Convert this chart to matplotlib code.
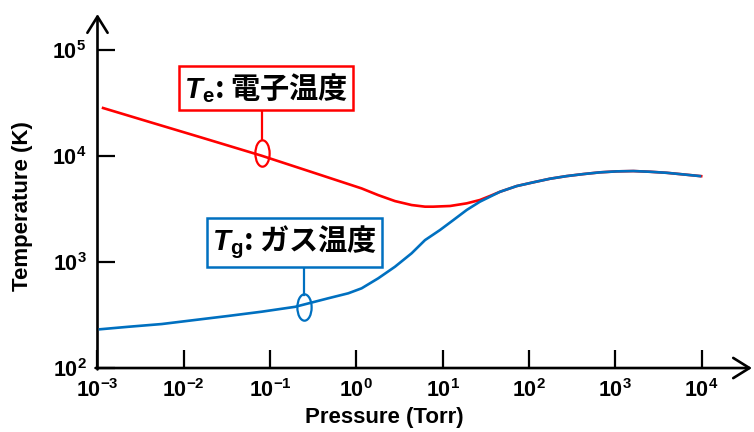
import matplotlib
matplotlib.use("Agg")
import matplotlib.pyplot as plt
from matplotlib.path import Path
from matplotlib.transforms import Affine2D

# electron temperature vs pressure
pressure_te = [1.16e-3, 4.06e-3, 0.0154, 0.080, 0.290, 1.15, 1.79, 2.80,
               4.37, 6.24, 7.78, 12.2, 19.0, 27.0, 35.3, 46.1, 72.0, 112,
               175, 273, 426, 665, 1040, 1620, 2520, 3940, 6140, 9900]
temp_te = [28400, 20900, 15100, 10070, 7150, 4950, 4280, 3760, 3450, 3330,
           3330, 3380, 3580, 3850, 4200, 4600, 5210, 5650, 6110, 6470, 6760,
           7020, 7170, 7220, 7110, 6950, 6710, 6460]

# gas temperature vs pressure
pressure_tg = [1.07e-3, 2.28e-3, 5.55e-3, 0.0135, 0.0328, 0.080, 0.195,
               0.472, 0.805, 1.15, 1.79, 2.80, 4.37, 6.24, 9.31, 13.3, 19.0,
               27.0, 46.1, 72.0, 112, 175, 273, 426, 665, 1040, 1620, 2520,
               3940, 6140, 9590]
temp_tg = [232, 245, 260, 284, 310, 340, 378, 455, 507, 565, 702, 903, 1210,
           1610, 2005, 2490, 3100, 3710, 4600, 5210, 5650, 6110, 6470, 6760,
           7020, 7170, 7220, 7110, 6950, 6710, 6470]

x_ticks = [1e-3, 1e-2, 1e-1, 1e0, 1e1, 1e2, 1e3, 1e4]
x_tick_labels = ["-3", "-2", "-1", "0", "1", "2", "3", "4"]
y_ticks = [1e2, 1e3, 1e4, 1e5]
y_tick_labels = ["2", "3", "4", "5"]

RED = "#ff0000"
BLUE = "#0070c0"

plt.rcParams["font.family"] = ["Liberation Sans", "Noto Sans CJK JP"]
plt.rcParams["mathtext.fontset"] = "custom"
plt.rcParams["mathtext.rm"] = "Liberation Sans"
plt.rcParams["mathtext.bf"] = "Liberation Sans:bold"
plt.rcParams["mathtext.bfit"] = "Liberation Sans:italic:bold"

fig = plt.figure(figsize=(7.54, 4.32), dpi=100)
ax = fig.add_axes([0.1293, 0.1481, 0.868, 0.8194])
ax.set_xscale("log")
ax.set_yscale("log")
ax.set_xlim(1e-3, 10 ** 4.584)
ax.set_ylim(1e2, 10 ** 5.34)

ax.plot(pressure_te, temp_te, color=RED, lw=1.9, zorder=3,
        solid_joinstyle="round")
ax.plot(pressure_tg, temp_tg, color=BLUE, lw=1.9, zorder=4,
        solid_joinstyle="round")

# axes drawn as arrows
for sp in ax.spines.values():
    sp.set_visible(False)
arrow = dict(arrowstyle="->,head_length=0.45,head_width=0.28", lw=1.9,
             color="black", shrinkA=0, shrinkB=0, mutation_scale=26)
ax.annotate("", xy=(1, 0), xytext=(-0.003, 0), xycoords="axes fraction",
            arrowprops=arrow, annotation_clip=False)
ax.annotate("", xy=(0, 1), xytext=(0, -0.004), xycoords="axes fraction",
            arrowprops=arrow, annotation_clip=False)

ax.set_xticks(x_ticks)
ax.set_xticklabels([r"$\mathbf{10^{%s}}$" % s for s in x_tick_labels])
ax.set_yticks(y_ticks)
ax.set_yticklabels([r"$\mathbf{10^{%s}}$" % s for s in y_tick_labels])
ax.minorticks_off()
ax.tick_params(direction="in", length=13, width=1.6, labelsize=15.5)
ax.tick_params(axis="x", pad=8)
ax.tick_params(axis="y", pad=8)

fig.text(384 / 754, 1 - 418 / 432, "Pressure (Torr)", fontsize=16,
         fontweight="bold", ha="center", va="center")
fig.text(23 / 754, 1 - 206 / 432, "Temperature (K)", fontsize=16,
         fontweight="bold", ha="center", va="center", rotation=90)

# small ellipse marker used to tag each curve
ring = Path.unit_circle().transformed(Affine2D().scale(0.54, 1.0))


def tag(label, color, box_xy, leader_x, leader_y, ring_xy):
    ax.plot([leader_x, leader_x], leader_y, color=color, lw=1.6, zorder=5)
    ax.plot(*ring_xy, marker=ring, ms=19, mfc="none", mec=color, mew=1.6,
            zorder=5)
    ax.text(*box_xy, label, ha="center", va="center", fontsize=21,
            family="Noto Sans CJK JP", fontweight="bold", zorder=6,
            bbox=dict(boxstyle="square,pad=0.18", fc="white", ec=color,
                      lw=1.8))


tag(r"$\mathbfit{T}_\mathbf{e}$: 電子温度", RED, (0.0897, 43900), 0.0805,
    [27200, 14200], ([0.0805], [10700]))
tag(r"$\mathbfit{T}_\mathbf{g}$: ガス温度", BLUE, (0.192, 1530), 0.247,
    [980, 489], ([0.247], [376]))

fig.savefig("out.png", dpi=100)
